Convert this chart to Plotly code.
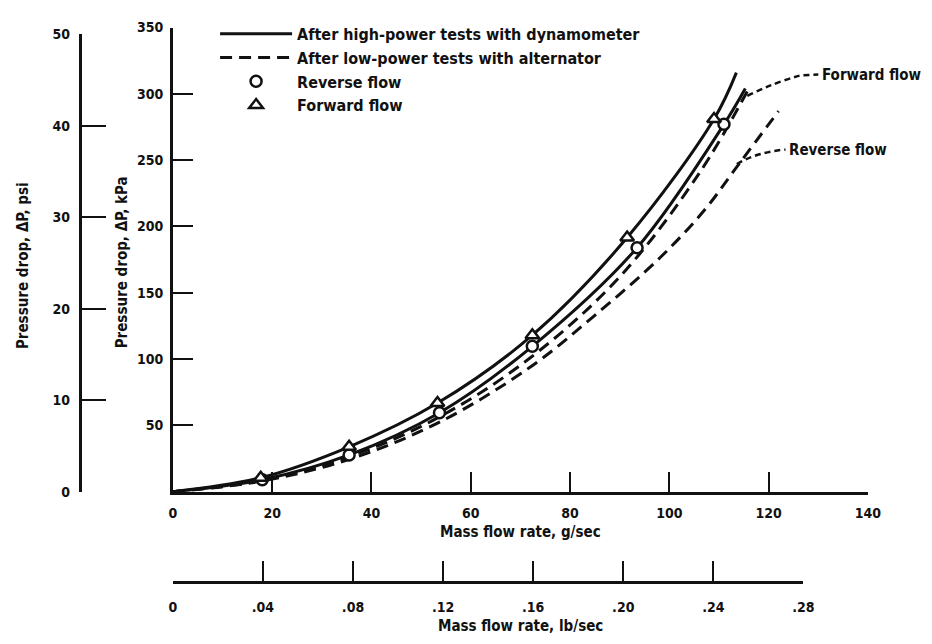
import plotly.graph_objects as go

# ---------------- data ----------------
# markers
mf_fwd_pts = [17.7, 35.5, 53.3, 72.4, 91.5, 109.0]      # g/sec, forward flow (triangles)
dp_fwd_pts = [10.5, 33.8, 66.8, 118.0, 191.6, 281.0]    # kPa
mf_rev_pts = [18.0, 35.5, 53.7, 72.4, 93.5, 111.0]      # g/sec, reverse flow (circles)
dp_rev_pts = [9.0, 27.7, 59.5, 109.6, 184.0, 277.0]     # kPa

# curves after high-power tests with dynamometer (solid)
mf_hp_fwd = [0, 17.7, 35.5, 53.3, 72.4, 91.5, 109.0, 113.5]
dp_hp_fwd = [0, 10.5, 33.8, 66.8, 118.0, 191.6, 281.0, 316.0]
mf_hp_rev = [0, 18.0, 35.5, 53.7, 72.4, 93.5, 111.0, 115.3]
dp_hp_rev = [0, 9.0, 27.7, 59.5, 109.6, 184.0, 277.0, 304.0]

# curves after low-power tests with alternator (dashed)
mf_lp_fwd = [0, 18, 36, 54, 72, 90, 106, 116]
dp_lp_fwd = [0, 8.5, 27, 57, 101, 162, 240, 304]
mf_lp_rev = [0, 18, 36, 54, 72, 85, 98, 107, 114, 122]
dp_lp_rev = [0, 8, 25, 53, 94, 133, 176, 212, 247, 287]

# axes
x_gs_ticks = [0, 20, 40, 60, 80, 100, 120, 140]
y_kpa_ticks = [50, 100, 150, 200, 250, 300, 350]
y_psi_ticks = [0, 10, 20, 30, 40, 50]
x_lb_ticks = [0, 0.04, 0.08, 0.12, 0.16, 0.20, 0.24, 0.28]
x_lb_text = ["0", ".04", ".08", ".12", ".16", ".20", ".24", ".28"]

KPA_PER_PSI = 6.894757
G_PER_LB = 453.592

# ---------------- layout geometry ----------------
W, H = 932, 644
X0, X1 = 172, 880          # pixel of 0 and 140 g/sec
Y0, Y1 = 496, 20           # pixel of 0 and 350 kPa
px_per_g = (X1 - X0) / 140.0
px_per_kpa = (Y0 - Y1) / 350.0

FONT = "DejaVu Sans Condensed, Liberation Sans Narrow, Arial Narrow, sans-serif"
BLACK = "#111111"
CLEAR = "rgba(0,0,0,0)"

fig = go.Figure()

line_w = 3
fig.add_trace(go.Scatter(x=mf_hp_fwd, y=dp_hp_fwd, mode="lines", line_shape="spline",
                         line=dict(color=BLACK, width=line_w),
                         name="After high-power tests with dynamometer", legendrank=1))
fig.add_trace(go.Scatter(x=mf_hp_rev, y=dp_hp_rev, mode="lines", line_shape="spline",
                         line=dict(color=BLACK, width=line_w), showlegend=False))
fig.add_trace(go.Scatter(x=mf_lp_fwd, y=dp_lp_fwd, mode="lines", line_shape="spline",
                         line=dict(color=BLACK, width=line_w, dash="12px,7px"),
                         name="After low-power tests with alternator", legendrank=2))
fig.add_trace(go.Scatter(x=mf_lp_rev, y=dp_lp_rev, mode="lines", line_shape="spline",
                         line=dict(color=BLACK, width=line_w, dash="12px,7px"), showlegend=False))
fig.add_trace(go.Scatter(x=mf_rev_pts, y=dp_rev_pts, mode="markers", name="Reverse flow",
                         marker=dict(symbol="circle", size=11, color="white",
                                     line=dict(color=BLACK, width=2.5)), legendrank=3))
fig.add_trace(go.Scatter(x=mf_fwd_pts, y=dp_fwd_pts, mode="markers", name="Forward flow",
                         marker=dict(symbol="triangle-up", size=12, color="white",
                                     line=dict(color=BLACK, width=2.5)), legendrank=4))

# dummy invisible trace so that the secondary (psi / lb/sec) axes are drawn
fig.add_trace(go.Scatter(x=[0, 0.28], y=[0, 50], xaxis="x2", yaxis="y2", mode="markers",
                         marker=dict(opacity=0), showlegend=False, hoverinfo="skip"))

dom_x = [X0 / W, X1 / W]
dom_y = [1 - Y0 / H, 1 - Y1 / H]
psi_top_px = Y0 - 50 * KPA_PER_PSI * px_per_kpa
lb_end_px = X0 + 0.28 * G_PER_LB * px_per_g

tickfont = dict(family=FONT, size=14, color=BLACK, weight="bold")
axis_common = dict(showline=True, linecolor=BLACK, linewidth=2.5, ticks="inside",
                   tickcolor=BLACK, tickwidth=2, showgrid=False, zeroline=False,
                   tickfont=tickfont, fixedrange=True)

fig.update_layout(
    width=W, height=H, margin=dict(l=0, r=0, t=0, b=0),
    paper_bgcolor="white", plot_bgcolor=CLEAR,
    font=dict(family=FONT, color=BLACK),
    xaxis=dict(domain=dom_x, range=[0, 140], tickvals=x_gs_ticks, ticklen=20,
               ticklabelstandoff=7, **axis_common),
    yaxis=dict(domain=dom_y, range=[0, 350], tickvals=y_kpa_ticks, ticklen=20,
               ticklabelstandoff=4, **axis_common),
    xaxis2=dict(domain=[X0 / W, lb_end_px / W], range=[0, 0.28], anchor="free",
                position=1 - 589 / H, tickvals=x_lb_ticks, ticktext=x_lb_text, ticklen=21,
                ticklabelstandoff=11, **axis_common),
    yaxis2=dict(domain=[1 - Y0 / H, 1 - psi_top_px / H], range=[0, 50], anchor="free",
                position=77 / W, tickvals=y_psi_ticks, ticklen=25,
                ticklabelstandoff=6, **axis_common),
    legend=dict(x=215 / W, y=1 - 9 / H, xanchor="left", yanchor="top",
                itemwidth=72, bgcolor=CLEAR,
                font=dict(family=FONT, size=16, color=BLACK, weight="bold"),
                traceorder="normal"),
    showlegend=True,
)

title_font = dict(family=FONT, size=15, color=BLACK, weight="bold")
annots = [
    dict(text="Mass flow rate, g/sec", x=(X0 + X1) / 2 / W, y=1 - 537 / H),
    dict(text="Mass flow rate, lb/sec", x=(X0 + X1) / 2 / W, y=1 - 634 / H),
    dict(text="Pressure drop, ΔP, psi", x=20 / W, y=1 - 264 / H, textangle=-90),
    dict(text="Pressure drop, ΔP, kPa", x=120 / W, y=1 - 261 / H, textangle=-90),
]
for a in annots:
    fig.add_annotation(xref="paper", yref="paper", showarrow=False, font=title_font,
                       xanchor="center", yanchor="middle", **a)

# leader labels
fig.add_annotation(x=130.3, y=314.5, xref="x", yref="y", text="Forward flow", showarrow=False,
                   xanchor="left", yanchor="middle", font=title_font)
fig.add_annotation(x=123.7, y=258.0, xref="x", yref="y", text="Reverse flow", showarrow=False,
                   xanchor="left", yanchor="middle", font=title_font)
fig.add_shape(type="path", xref="x", yref="y",
              path="M 115.7,298.5 Q 121.5,309 126.5,314 L 130.0,314.5",
              line=dict(color=BLACK, width=2.5, dash="6px,4px"))
fig.add_shape(type="path", xref="x", yref="y",
              path="M 113.6,247 Q 117.6,256 123.4,258",
              line=dict(color=BLACK, width=2.5, dash="6px,4px"))

fig.write_html("out.html")
